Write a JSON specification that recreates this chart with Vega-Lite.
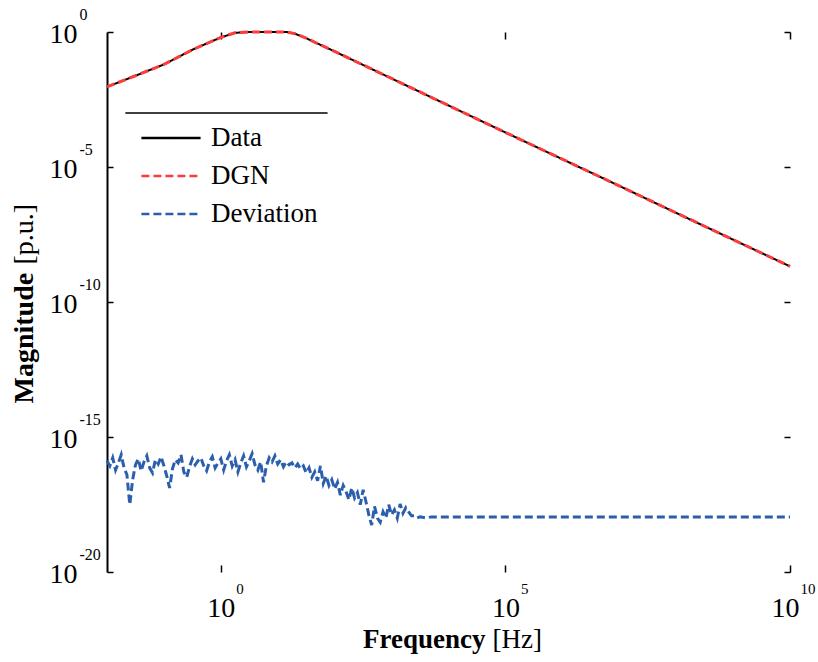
{
  "$schema": "https://vega.github.io/schema/vega-lite/v6.json",
  "width": 683,
  "height": 540,
  "autosize": {"type": "none"},
  "padding": {"left": 107, "top": 32, "right": 28, "bottom": 90},
  "background": "white",
  "config": {
    "view": {"stroke": null},
    "font": "Liberation Serif",
    "axis": {"grid": false, "labelFont": "Liberation Serif", "titleFont": "Liberation Serif", "labelColor": "black", "titleColor": "black", "tickColor": "black", "domainColor": "black", "labelFlush": false, "labelOverlap": false, "labelBound": false},
    "legend": {"labelFont": "Liberation Serif"}
  },
  "datasets": {
    "frame": [{"item": "legend frame"}]
  },
  "data": {"values": [
    {"series": "Data", "f": 0.01, "mag": 0.0093},
    {"series": "Data", "f": 0.03162, "mag": 0.024},
    {"series": "Data", "f": 0.1, "mag": 0.063},
    {"series": "Data", "f": 0.3162, "mag": 0.22},
    {"series": "Data", "f": 1, "mag": 0.63},
    {"series": "Data", "f": 1.778, "mag": 0.93},
    {"series": "Data", "f": 3.162, "mag": 1.0},
    {"series": "Data", "f": 10, "mag": 1.0},
    {"series": "Data", "f": 14.45, "mag": 1.0},
    {"series": "Data", "f": 19.95, "mag": 0.87},
    {"series": "Data", "f": 31.62, "mag": 0.59},
    {"series": "Data", "f": 100, "mag": 0.19},
    {"series": "Data", "f": 1000, "mag": 0.019},
    {"series": "Data", "f": 10000, "mag": 0.0019},
    {"series": "Data", "f": 1e5, "mag": 1.9e-4},
    {"series": "Data", "f": 1e6, "mag": 1.95e-5},
    {"series": "Data", "f": 1e7, "mag": 2.0e-6},
    {"series": "Data", "f": 1e8, "mag": 2.0e-7},
    {"series": "Data", "f": 1e9, "mag": 2.04e-8},
    {"series": "Data", "f": 1e10, "mag": 2.09e-9},
    {"series": "DGN", "f": 0.01, "mag": 0.0093},
    {"series": "DGN", "f": 0.03162, "mag": 0.024},
    {"series": "DGN", "f": 0.1, "mag": 0.063},
    {"series": "DGN", "f": 0.3162, "mag": 0.22},
    {"series": "DGN", "f": 1, "mag": 0.63},
    {"series": "DGN", "f": 1.778, "mag": 0.93},
    {"series": "DGN", "f": 3.162, "mag": 1.0},
    {"series": "DGN", "f": 10, "mag": 1.0},
    {"series": "DGN", "f": 14.45, "mag": 1.0},
    {"series": "DGN", "f": 19.95, "mag": 0.87},
    {"series": "DGN", "f": 31.62, "mag": 0.59},
    {"series": "DGN", "f": 100, "mag": 0.19},
    {"series": "DGN", "f": 1000, "mag": 0.019},
    {"series": "DGN", "f": 10000, "mag": 0.0019},
    {"series": "DGN", "f": 1e5, "mag": 1.9e-4},
    {"series": "DGN", "f": 1e6, "mag": 1.95e-5},
    {"series": "DGN", "f": 1e7, "mag": 2.0e-6},
    {"series": "DGN", "f": 1e8, "mag": 2.0e-7},
    {"series": "DGN", "f": 1e9, "mag": 2.04e-8},
    {"series": "DGN", "f": 1e10, "mag": 2.09e-9},
    {"series": "Deviation", "f": 0.01, "mag": 1.32e-16},
    {"series": "Deviation", "f": 0.01122, "mag": 8.5e-17},
    {"series": "Deviation", "f": 0.01259, "mag": 1.7e-16},
    {"series": "Deviation", "f": 0.01413, "mag": 6.0e-17},
    {"series": "Deviation", "f": 0.01585, "mag": 1.1e-16},
    {"series": "Deviation", "f": 0.01778, "mag": 2.2e-16},
    {"series": "Deviation", "f": 0.01995, "mag": 7.2e-17},
    {"series": "Deviation", "f": 0.02239, "mag": 4.0e-17},
    {"series": "Deviation", "f": 0.02512, "mag": 3.1e-18},
    {"series": "Deviation", "f": 0.02818, "mag": 2.6e-17},
    {"series": "Deviation", "f": 0.03162, "mag": 9.3e-17},
    {"series": "Deviation", "f": 0.03548, "mag": 1.55e-16},
    {"series": "Deviation", "f": 0.03981, "mag": 5.6e-17},
    {"series": "Deviation", "f": 0.04467, "mag": 1.2e-16},
    {"series": "Deviation", "f": 0.05012, "mag": 2.0e-16},
    {"series": "Deviation", "f": 0.05623, "mag": 7.2e-17},
    {"series": "Deviation", "f": 0.0631, "mag": 4.7e-17},
    {"series": "Deviation", "f": 0.07079, "mag": 1.44e-16},
    {"series": "Deviation", "f": 0.07943, "mag": 1.0e-16},
    {"series": "Deviation", "f": 0.08913, "mag": 1.85e-16},
    {"series": "Deviation", "f": 0.1, "mag": 8.5e-17},
    {"series": "Deviation", "f": 0.1122, "mag": 3.6e-17},
    {"series": "Deviation", "f": 0.1259, "mag": 1.3e-17},
    {"series": "Deviation", "f": 0.1413, "mag": 6.6e-17},
    {"series": "Deviation", "f": 0.1585, "mag": 1.44e-16},
    {"series": "Deviation", "f": 0.1778, "mag": 1.1e-16},
    {"series": "Deviation", "f": 0.1995, "mag": 2.2e-16},
    {"series": "Deviation", "f": 0.2239, "mag": 5.1e-17},
    {"series": "Deviation", "f": 0.2512, "mag": 3.2e-17},
    {"series": "Deviation", "f": 0.2818, "mag": 7.9e-17},
    {"series": "Deviation", "f": 0.3162, "mag": 1.55e-16},
    {"series": "Deviation", "f": 0.3548, "mag": 9.3e-17},
    {"series": "Deviation", "f": 0.3981, "mag": 1.32e-16},
    {"series": "Deviation", "f": 0.4467, "mag": 1.7e-16},
    {"series": "Deviation", "f": 0.5012, "mag": 8.5e-17},
    {"series": "Deviation", "f": 0.5623, "mag": 5.6e-17},
    {"series": "Deviation", "f": 0.631, "mag": 1.2e-16},
    {"series": "Deviation", "f": 0.7079, "mag": 1.85e-16},
    {"series": "Deviation", "f": 0.7943, "mag": 7.2e-17},
    {"series": "Deviation", "f": 0.8913, "mag": 1.1e-16},
    {"series": "Deviation", "f": 1, "mag": 1.55e-16},
    {"series": "Deviation", "f": 1.122, "mag": 6.0e-17},
    {"series": "Deviation", "f": 1.259, "mag": 1.32e-16},
    {"series": "Deviation", "f": 1.413, "mag": 2.2e-16},
    {"series": "Deviation", "f": 1.585, "mag": 8.5e-17},
    {"series": "Deviation", "f": 1.778, "mag": 1.44e-16},
    {"series": "Deviation", "f": 1.995, "mag": 5.1e-17},
    {"series": "Deviation", "f": 2.239, "mag": 1.1e-16},
    {"series": "Deviation", "f": 2.512, "mag": 2.0e-16},
    {"series": "Deviation", "f": 2.818, "mag": 7.9e-17},
    {"series": "Deviation", "f": 3.162, "mag": 1.32e-16},
    {"series": "Deviation", "f": 3.548, "mag": 2.4e-16},
    {"series": "Deviation", "f": 3.981, "mag": 9.3e-17},
    {"series": "Deviation", "f": 4.467, "mag": 6.0e-17},
    {"series": "Deviation", "f": 5.012, "mag": 1.2e-16},
    {"series": "Deviation", "f": 5.623, "mag": 2.1e-17},
    {"series": "Deviation", "f": 6.31, "mag": 8.5e-17},
    {"series": "Deviation", "f": 7.079, "mag": 1.7e-16},
    {"series": "Deviation", "f": 7.943, "mag": 1.2e-16},
    {"series": "Deviation", "f": 8.913, "mag": 2.0e-16},
    {"series": "Deviation", "f": 10, "mag": 1.0e-16},
    {"series": "Deviation", "f": 11.22, "mag": 1.44e-16},
    {"series": "Deviation", "f": 12.59, "mag": 7.9e-17},
    {"series": "Deviation", "f": 14.13, "mag": 1.2e-16},
    {"series": "Deviation", "f": 15.85, "mag": 9.3e-17},
    {"series": "Deviation", "f": 17.78, "mag": 1.1e-16},
    {"series": "Deviation", "f": 19.95, "mag": 7.2e-17},
    {"series": "Deviation", "f": 22.39, "mag": 1.0e-16},
    {"series": "Deviation", "f": 25.12, "mag": 6.6e-17},
    {"series": "Deviation", "f": 28.18, "mag": 8.5e-17},
    {"series": "Deviation", "f": 31.62, "mag": 4.7e-17},
    {"series": "Deviation", "f": 35.48, "mag": 7.2e-17},
    {"series": "Deviation", "f": 39.81, "mag": 3.2e-17},
    {"series": "Deviation", "f": 44.67, "mag": 5.1e-17},
    {"series": "Deviation", "f": 50.12, "mag": 2.4e-17},
    {"series": "Deviation", "f": 56.23, "mag": 8.5e-17},
    {"series": "Deviation", "f": 63.1, "mag": 1.9e-17},
    {"series": "Deviation", "f": 70.79, "mag": 3.6e-17},
    {"series": "Deviation", "f": 79.43, "mag": 1.6e-17},
    {"series": "Deviation", "f": 89.13, "mag": 2.6e-17},
    {"series": "Deviation", "f": 100, "mag": 1.2e-17},
    {"series": "Deviation", "f": 112.2, "mag": 2.1e-17},
    {"series": "Deviation", "f": 125.9, "mag": 7.0e-18},
    {"series": "Deviation", "f": 141.3, "mag": 1.6e-17},
    {"series": "Deviation", "f": 158.5, "mag": 9.5e-18},
    {"series": "Deviation", "f": 177.8, "mag": 4.7e-18},
    {"series": "Deviation", "f": 199.5, "mag": 1.3e-17},
    {"series": "Deviation", "f": 223.9, "mag": 5.5e-18},
    {"series": "Deviation", "f": 251.2, "mag": 8.7e-18},
    {"series": "Deviation", "f": 281.8, "mag": 3.1e-18},
    {"series": "Deviation", "f": 316.2, "mag": 1.1e-17},
    {"series": "Deviation", "f": 354.8, "mag": 4.0e-18},
    {"series": "Deviation", "f": 398.1, "mag": 1.3e-18},
    {"series": "Deviation", "f": 446.7, "mag": 5.5e-19},
    {"series": "Deviation", "f": 501.2, "mag": 2.7e-18},
    {"series": "Deviation", "f": 562.3, "mag": 1.0e-18},
    {"series": "Deviation", "f": 631, "mag": 7.0e-19},
    {"series": "Deviation", "f": 707.9, "mag": 1.7e-18},
    {"series": "Deviation", "f": 794.3, "mag": 1.0e-18},
    {"series": "Deviation", "f": 891.3, "mag": 3.1e-18},
    {"series": "Deviation", "f": 1000, "mag": 1.3e-18},
    {"series": "Deviation", "f": 1122, "mag": 2.0e-18},
    {"series": "Deviation", "f": 1259, "mag": 1.0e-18},
    {"series": "Deviation", "f": 1413, "mag": 3.3e-18},
    {"series": "Deviation", "f": 1585, "mag": 1.5e-18},
    {"series": "Deviation", "f": 1778, "mag": 2.4e-18},
    {"series": "Deviation", "f": 1995, "mag": 1.7e-18},
    {"series": "Deviation", "f": 2239, "mag": 1.2e-18},
    {"series": "Deviation", "f": 2512, "mag": 1.2e-18},
    {"series": "Deviation", "f": 2818, "mag": 1.0e-18},
    {"series": "Deviation", "f": 3162, "mag": 1.1e-18},
    {"series": "Deviation", "f": 3981, "mag": 1.0e-18},
    {"series": "Deviation", "f": 5012, "mag": 1.1e-18},
    {"series": "Deviation", "f": 6310, "mag": 1.1e-18},
    {"series": "Deviation", "f": 1e4, "mag": 1.1e-18},
    {"series": "Deviation", "f": 1e5, "mag": 1.1e-18},
    {"series": "Deviation", "f": 1e6, "mag": 1.1e-18},
    {"series": "Deviation", "f": 1e7, "mag": 1.1e-18},
    {"series": "Deviation", "f": 1e8, "mag": 1.1e-18},
    {"series": "Deviation", "f": 1e9, "mag": 1.1e-18},
    {"series": "Deviation", "f": 1e10, "mag": 1.1e-18}
  ]},
  "layer": [
    {
      "data": {"name": "frame"},
      "mark": {"type": "rule", "color": "black", "strokeWidth": 1.5},
      "encoding": {
        "x": {"datum": 0.021, "type": "quantitative", "scale": {"type": "log", "domain": [0.01, 1e10], "nice": false}, "axis": null},
        "x2": {"datum": 75},
        "y": {"datum": 0.001, "type": "quantitative", "scale": {"type": "log", "domain": [1e-20, 1], "nice": false}, "axis": null}
      }
    },
    {
      "transform": [{"filter": "datum.series === 'Data'"}],
      "mark": {"type": "line", "strokeWidth": 2},
      "encoding": {
        "x": {"field": "f", "type": "quantitative", "scale": {"type": "log", "domain": [0.01, 1e10], "nice": false},
          "axis": {"orient": "bottom", "values": [1, 100000, 10000000000], "labelExpr": "'10'", "labelFontSize": 28, "labelAlign": "center", "labelBaseline": "top", "labelPadding": 29, "labelOffset": {"condition": {"test": "datum.value > 1e9", "value": -5}, "value": 0}, "ticks": true, "tickSize": -7, "tickWidth": 1.5, "domain": false,
            "title": "Frequency", "titleFontSize": 27, "titleFontWeight": "bold", "titleX": 378, "titleY": 75, "titleAlign": "right", "titleBaseline": "alphabetic"}},
        "y": {"field": "mag", "type": "quantitative", "scale": {"type": "log", "domain": [1e-20, 1], "nice": false},
          "axis": {"orient": "left", "values": [1e-20, 1e-15, 1e-10, 1e-5, 1], "labelExpr": "'10'", "labelFontSize": 28, "labelAlign": "right", "labelBaseline": "middle", "labelPadding": 36, "labelOffset": 2, "ticks": true, "tickSize": -6, "tickWidth": 1.5, "domain": true, "domainWidth": 2,
            "title": "Magnitude", "titleFontSize": 28, "titleFontWeight": "bold", "titleAngle": 270, "titleX": -75, "titleY": 371, "titleAlign": "left", "titleBaseline": "alphabetic"}},
        "color": {"field": "series", "type": "nominal", "scale": {"domain": ["Data", "DGN", "Deviation"], "range": ["#000000", "#ff3b3b", "#2b5fad"]},
          "legend": {"orient": "none", "legendX": 44, "legendY": 86, "title": null, "symbolType": "M-1.6,0H1.6", "symbolSize": 1369, "symbolStrokeWidth": 2.5, "labelFont": "Liberation Serif", "labelFontSize": 27, "labelColor": "black", "labelOffset": 20, "rowPadding": 5, "padding": 0}},
        "strokeDash": {"field": "series", "type": "nominal", "scale": {"domain": ["Data", "DGN", "Deviation"], "range": [[1, 0], [8, 4], [8, 4]]},
          "legend": {"orient": "none", "legendX": 44, "legendY": 86, "title": null, "symbolType": "M-1.6,0H1.6", "symbolSize": 1369, "symbolStrokeWidth": 2.5, "labelFont": "Liberation Serif", "labelFontSize": 27, "labelColor": "black", "labelOffset": 20, "rowPadding": 5, "padding": 0}}
      }
    },
    {
      "transform": [{"filter": "datum.series === 'DGN'"}],
      "mark": {"type": "line", "strokeWidth": 3},
      "encoding": {
        "x": {"field": "f", "type": "quantitative", "scale": {"type": "log", "domain": [0.01, 1e10], "nice": false},
          "axis": {"orient": "bottom", "values": [1, 100000, 10000000000], "labelExpr": "'' + round(log(datum.value) / LN10)", "labelFontSize": 15, "labelAlign": "left", "labelBaseline": "top", "labelPadding": 9, "labelOffset": {"condition": {"test": "datum.value > 1e9", "value": 10}, "value": 15}, "ticks": false, "domain": false,
            "title": "[Hz]", "titleFontSize": 27, "titleFontWeight": "normal", "titleX": 385, "titleY": 75, "titleAlign": "left", "titleBaseline": "alphabetic"}},
        "y": {"field": "mag", "type": "quantitative", "scale": {"type": "log", "domain": [1e-20, 1], "nice": false},
          "axis": {"orient": "left", "values": [1e-20, 1e-15, 1e-10, 1e-5, 1], "labelExpr": "'' + round(log(datum.value) / LN10)", "labelFontSize": 16, "labelAlign": "left", "labelBaseline": "middle", "labelPadding": 28, "labelOffset": -18, "ticks": false, "domain": false,
            "title": "[p.u.]", "titleFontSize": 28, "titleFontWeight": "normal", "titleAngle": 270, "titleX": -75, "titleY": 232, "titleAlign": "left", "titleBaseline": "alphabetic"}},
        "color": {"field": "series", "type": "nominal", "scale": {"domain": ["Data", "DGN", "Deviation"], "range": ["#000000", "#ff3b3b", "#2b5fad"]}},
        "strokeDash": {"field": "series", "type": "nominal", "scale": {"domain": ["Data", "DGN", "Deviation"], "range": [[1, 0], [8, 4], [8, 4]]}}
      }
    },
    {
      "transform": [{"filter": "datum.series === 'Deviation'"}],
      "mark": {"type": "line", "strokeWidth": 3},
      "encoding": {
        "x": {"field": "f", "type": "quantitative", "scale": {"type": "log", "domain": [0.01, 1e10], "nice": false},
          "axis": {"orient": "top", "values": [1, 100000, 10000000000], "labels": false, "ticks": true, "tickSize": -7, "tickWidth": 1.5, "domain": false, "title": null}},
        "y": {"field": "mag", "type": "quantitative", "scale": {"type": "log", "domain": [1e-20, 1], "nice": false},
          "axis": {"orient": "right", "values": [1e-20, 1e-15, 1e-10, 1e-5, 1], "labels": false, "ticks": true, "tickSize": -6, "tickWidth": 1.5, "domain": false, "title": null}},
        "color": {"field": "series", "type": "nominal", "scale": {"domain": ["Data", "DGN", "Deviation"], "range": ["#000000", "#ff3b3b", "#2b5fad"]}},
        "strokeDash": {"field": "series", "type": "nominal", "scale": {"domain": ["Data", "DGN", "Deviation"], "range": [[1, 0], [8, 4], [8, 4]]}}
      }
    }
  ],
  "resolve": {"axis": {"x": "independent", "y": "independent"}}
}
